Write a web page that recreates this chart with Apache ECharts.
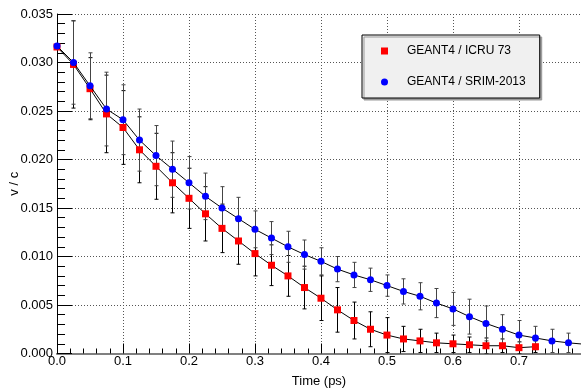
<!DOCTYPE html>
<html>
<head>
<meta charset="utf-8">
<script src="https://cdn.jsdelivr.net/npm/echarts@6/dist/echarts.min.js"></script>
<style>
  html, body { margin: 0; padding: 0; background: #ffffff; }
  #chart { width: 581px; height: 388px; }
</style>
</head>
<body>
<div id="chart"></div>
<script>
// Sampling times (ps)
const times = [0, 0.025, 0.05, 0.075, 0.1, 0.125, 0.15, 0.175, 0.2, 0.225, 0.25, 0.275,
  0.3, 0.325, 0.35, 0.375, 0.4, 0.425, 0.45, 0.475, 0.5, 0.525, 0.55, 0.575,
  0.6, 0.625, 0.65, 0.675, 0.7, 0.725, 0.75, 0.775, 0.8];

// GEANT4 with ICRU 73 stopping powers: v/c and its uncertainty
const icruValues = [0.0316, 0.0298, 0.0273, 0.0247, 0.0233, 0.0210, 0.0193, 0.0176, 0.0160, 0.0144,
  0.0129, 0.0116, 0.0103, 0.0091, 0.0080, 0.0068, 0.0057, 0.0045, 0.0034, 0.0025,
  0.0019, 0.0015, 0.0013, 0.0011, 0.0010, 0.0009, 0.0008, 0.0008, 0.0006, 0.0007];
const icruErrors = [0, 0.0045, 0.0032, 0.0040, 0.0038, 0.0034, 0.0034, 0.0031, 0.0031, 0.0028,
  0.0025, 0.0024, 0.0023, 0.0021, 0.0021, 0.0022, 0.0023, 0.0023, 0.0019, 0.0018,
  0.0018, 0.0013, 0.0012, 0.0010, 0.0009, 0.0008, 0.0008, 0.0007, 0.0006, 0.0006];

// GEANT4 with SRIM-2013 stopping powers: v/c and its uncertainty
const srimValues = [0.0317, 0.0300, 0.0276, 0.0252, 0.0241, 0.0220, 0.0204, 0.0190, 0.0176, 0.0162,
  0.0150, 0.0139, 0.0128, 0.0119, 0.0110, 0.0102, 0.0095, 0.0087, 0.0081, 0.0076,
  0.0070, 0.0064, 0.0059, 0.0052, 0.0046, 0.0038, 0.0031, 0.0025, 0.0019, 0.0016,
  0.0013, 0.0011, 0.00095];
const srimErrors = [0, 0.0043, 0.0034, 0.0038, 0.0036, 0.0032, 0.0031, 0.0029, 0.0027, 0.0024,
  0.0022, 0.0022, 0.0019, 0.0017, 0.0016, 0.0015, 0.0014, 0.0013, 0.0013, 0.0012,
  0.0011, 0.0013, 0.0014, 0.0015, 0.0017, 0.0018, 0.0018, 0.0015, 0.0015, 0.0012,
  0.0012, 0.0010, 0.0010];

const seriesNames = ['GEANT4 / ICRU 73', 'GEANT4 / SRIM-2013'];
const FONT = "'Liberation Sans', Arial, Helvetica, sans-serif";

function points(xs, ys) {
  return ys.map((y, i) => [xs[i], y]);
}

// Vertical error bars with small end caps
function errorBars(xs, ys, es, color) {
  return {
    type: 'custom',
    silent: true,
    clip: true,
    z: 1,
    data: ys.map((y, i) => [xs[i], y - es[i], y + es[i]]),
    encode: { x: 0, y: [1, 2] },
    renderItem(params, api) {
      const lo = api.coord([api.value(0), api.value(1)]);
      const hi = api.coord([api.value(0), api.value(2)]);
      if (Math.abs(lo[1] - hi[1]) < 0.5) return { type: 'group', children: [] };
      const x = Math.round(lo[0]) + 0.5;
      const st = { stroke: color, lineWidth: 1 };
      return {
        type: 'group',
        children: [
          { type: 'line', shape: { x1: x, y1: lo[1], x2: x, y2: hi[1] }, style: st },
          { type: 'line', shape: { x1: x - 2, y1: hi[1], x2: x + 2, y2: hi[1] }, style: st },
          { type: 'line', shape: { x1: x - 2, y1: lo[1], x2: x + 2, y2: lo[1] }, style: st }
        ]
      };
    }
  };
}

const chart = echarts.init(document.getElementById('chart'), null, { renderer: 'canvas' });

const gridLine = { show: true, lineStyle: { color: '#555555', width: 1, type: [1, 2] } };

chart.setOption({
  animation: false,
  backgroundColor: '#ffffff',
  textStyle: { fontFamily: FONT },
  grid: { left: 57, right: 0, top: 14, bottom: 34.5, containLabel: false, outerBoundsMode: 'none' },
  legend: {
    orient: 'vertical',
    left: 362,
    top: 35,
    padding: [9, 14, 9, 19],
    itemGap: 17,
    itemWidth: 7,
    itemHeight: 7,
    backgroundColor: '#f0f0f0',
    borderColor: '#000000',
    borderWidth: 1,
    borderRadius: 0,
    shadowColor: '#999999',
    shadowOffsetX: 2,
    shadowOffsetY: 2,
    shadowBlur: 0,
    selectedMode: false,
    textStyle: { fontFamily: FONT, fontSize: 12, color: '#000000', lineHeight: 14, padding: [0, 0, 0, 14] },
    data: [
      { name: seriesNames[0], icon: 'rect', itemStyle: { color: '#ff0000' } },
      { name: seriesNames[1], icon: 'circle', itemStyle: { color: '#0000ff' } }
    ]
  },
  xAxis: [{
    type: 'value',
    min: 0,
    max: 0.794,
    interval: 0.1,
    name: 'Time (ps)',
    nameLocation: 'middle',
    nameGap: 21,
    nameMoveOverlap: false,
    nameTextStyle: { fontFamily: FONT, fontSize: 13, color: '#000000' },
    axisLine: { show: true, onZero: false, lineStyle: { color: '#000000', width: 1 } },
    axisTick: { show: true, inside: true, length: 10, lineStyle: { color: '#000000' } },
    minorTick: { show: true, splitNumber: 5, length: 5, lineStyle: { color: '#000000' } },
    axisLabel: {
      fontFamily: FONT, fontSize: 13, color: '#000000', margin: 1,
      showMaxLabel: false,
      formatter: v => v.toFixed(1)
    },
    splitLine: gridLine
  }, {
    type: 'value',
    position: 'top',
    min: 0,
    max: 0.794,
    axisLine: { show: true, lineStyle: { color: '#808080', width: 2 } },
    axisTick: { show: false },
    axisLabel: { show: false },
    splitLine: { show: false }
  }],
  yAxis: {
    type: 'value',
    min: 0,
    max: 0.035,
    interval: 0.005,
    name: 'v / c',
    nameLocation: 'middle',
    nameGap: 36,
    nameMoveOverlap: false,
    nameTextStyle: { fontFamily: FONT, fontSize: 13, color: '#000000' },
    axisLine: { show: true, onZero: false, lineStyle: { color: '#000000', width: 1 } },
    axisTick: { show: true, inside: true, length: 15, lineStyle: { color: '#000000' } },
    minorTick: { show: true, splitNumber: 5, length: 8, lineStyle: { color: '#000000' } },
    axisLabel: {
      fontFamily: FONT, fontSize: 13, color: '#000000', margin: 4,
      formatter: v => v.toFixed(3)
    },
    splitLine: gridLine
  },
  series: [
    errorBars(times, icruValues, icruErrors, '#000000'),
    errorBars(times, srimValues, srimErrors, '#444444'),
    {
      type: 'line',
      name: seriesNames[0],
      data: points(times, icruValues),
      symbol: 'rect',
      symbolSize: 7,
      itemStyle: { color: '#ff0000' },
      lineStyle: { color: '#000000', width: 1 },
      clip: true,
      z: 3
    },
    {
      type: 'line',
      name: seriesNames[1],
      data: points(times, srimValues),
      symbol: 'circle',
      symbolSize: 7,
      itemStyle: { color: '#0000ff' },
      lineStyle: { color: '#000000', width: 1 },
      clip: true,
      z: 4
    }
  ]
});
</script>
</body>
</html>
